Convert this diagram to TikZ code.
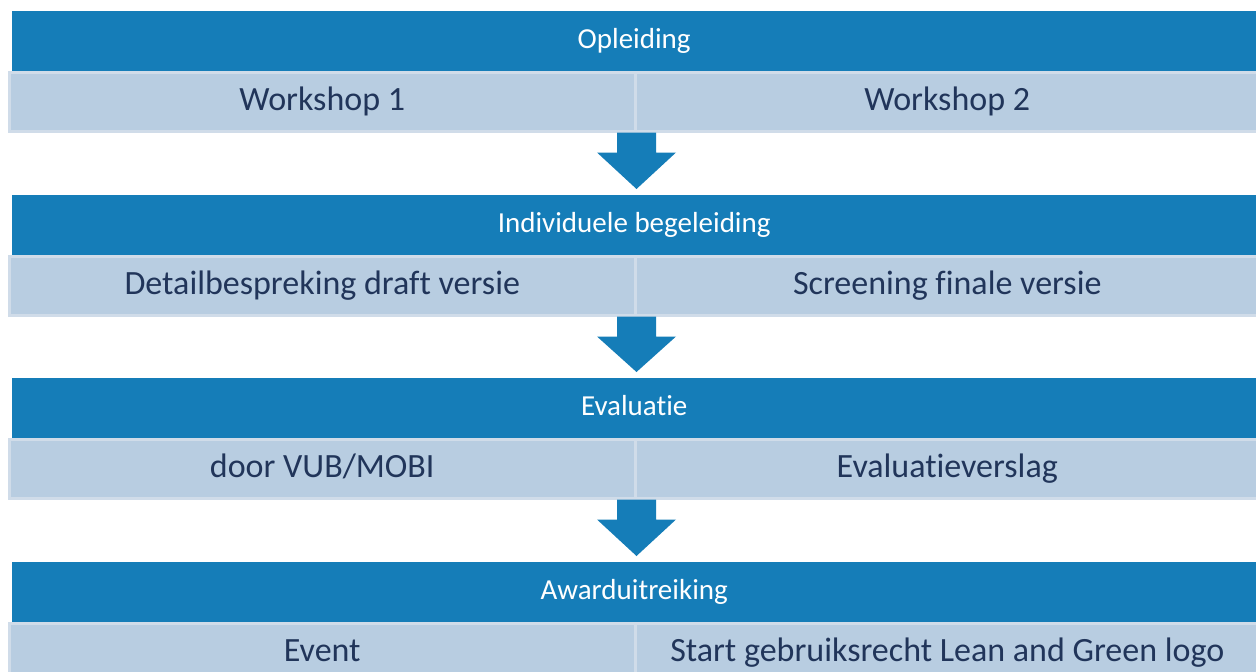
\documentclass[tikz,border=0pt]{standalone}
\usepackage{fontspec}
\setmainfont{Carlito}[Ligatures=NoCommon]
\usetikzlibrary{calc}
\definecolor{dblue}{HTML}{157DB8}
\definecolor{lblue}{HTML}{B8CDE1}
\definecolor{lline}{HTML}{D0DCE9}
\definecolor{navy}{HTML}{21355A}
\begin{document}
\begin{tikzpicture}[x=1pt,y=-1pt,
  head/.style={fill=dblue, text=white, minimum width=1244pt, minimum height=60pt,
    inner sep=0pt, anchor=north west, text height=20pt, text depth=5pt,
    font=\fontsize{29}{34}\selectfont},
  cellL/.style={fill=lblue, draw=lline, line width=2.5pt, text=navy, minimum width=626pt,
    minimum height=59pt, inner sep=0pt, anchor=north west, text height=23pt, text depth=6pt,
    font=\fontsize{34}{40}\selectfont},
  cellR/.style={cellL, minimum width=624pt},
  flowarrow/.style={fill=dblue}]
\useasboundingbox (0,0) rectangle (1256,672);
\fill[white] (0,0) rectangle (1256,672);

\foreach \i/\ypos/\htxt/\ltxt/\rtxt in {
  1/11/Opleiding/Workshop 1/Workshop 2,
  2/195/Individuele begeleiding/Detailbespreking draft versie/Screening finale versie,
  3/378/Evaluatie/door VUB\slash MOBI/Evaluatieverslag,
  4/562/Awarduitreiking/Event/Start gebruiksrecht Lean and Green logo}{
  \node[head] (h\i) at (12,\ypos) {\htxt};
  \node[cellL] (l\i) at (8,\ypos+60) {\ltxt};
  \node[cellR] (r\i) at (634,\ypos+60) {\rtxt};
}

\foreach \a/\b in {1/2,2/3,3/4}{
  \fill[flowarrow] let \p1=(l\a.south east), \p2=(h\b.north) in
    (\x1-19.5pt,\y1) -- (\x1+19.5pt,\y1) -- (\x1+19.5pt,\y1-20pt) -- (\x1+39.5pt,\y1-20pt)
    -- (\x1,\y2+6pt) -- (\x1-39.5pt,\y1-20pt) -- (\x1-19.5pt,\y1-20pt) -- cycle;
}
\end{tikzpicture}
\end{document}
